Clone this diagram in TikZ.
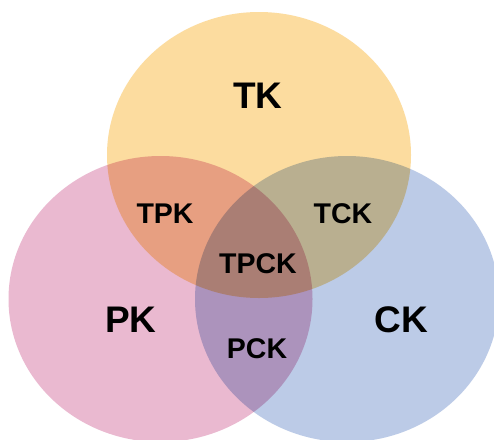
\documentclass[tikz,border=0pt]{standalone}
\usepackage{fontspec}
\setmainfont{Liberation Sans}
\usetikzlibrary{shapes.geometric}
\definecolor{tkcol}{RGB}{252,220,159}
\definecolor{pkcol}{RGB}{234,185,208}
\definecolor{ckcol}{RGB}{188,203,231}
\tikzset{
  setcircle/.style={ellipse, minimum width=304pt, minimum height=286pt, inner sep=0pt, draw=none},
  biglabel/.style={anchor=base, inner sep=0pt, font=\fontsize{37}{40}\selectfont\bfseries},
  smalllabel/.style={anchor=base, inner sep=0pt, font=\fontsize{28.5}{32}\selectfont\bfseries}
}
\begin{document}
\begin{tikzpicture}[x=1pt,y=-1pt]
\clip (0,0) rectangle (494,439);
\fill[white] (0,0) rectangle (494,439);
\begin{scope}[blend group=multiply]
\node[setcircle, fill=tkcol] (tkc) at (259,155) {};
\node[setcircle, fill=pkcol] (pkc) at (160.5,299) {};
\node[setcircle, fill=ckcol] (ckc) at (347,299) {};
\end{scope}
\node[biglabel] (tk) at (258,108) {TK};
\node[biglabel] (pk) at (131,332) {PK};
\node[biglabel] (ck) at (401,332) {CK};
\node[smalllabel] (tpk) at (165,223) {TPK};
\node[smalllabel] (tck) at (343,223) {TCK};
\node[smalllabel] (tpck) at (258,273) {TPCK};
\node[smalllabel] (pck) at (257,358) {PCK};
\end{tikzpicture}
\end{document}
